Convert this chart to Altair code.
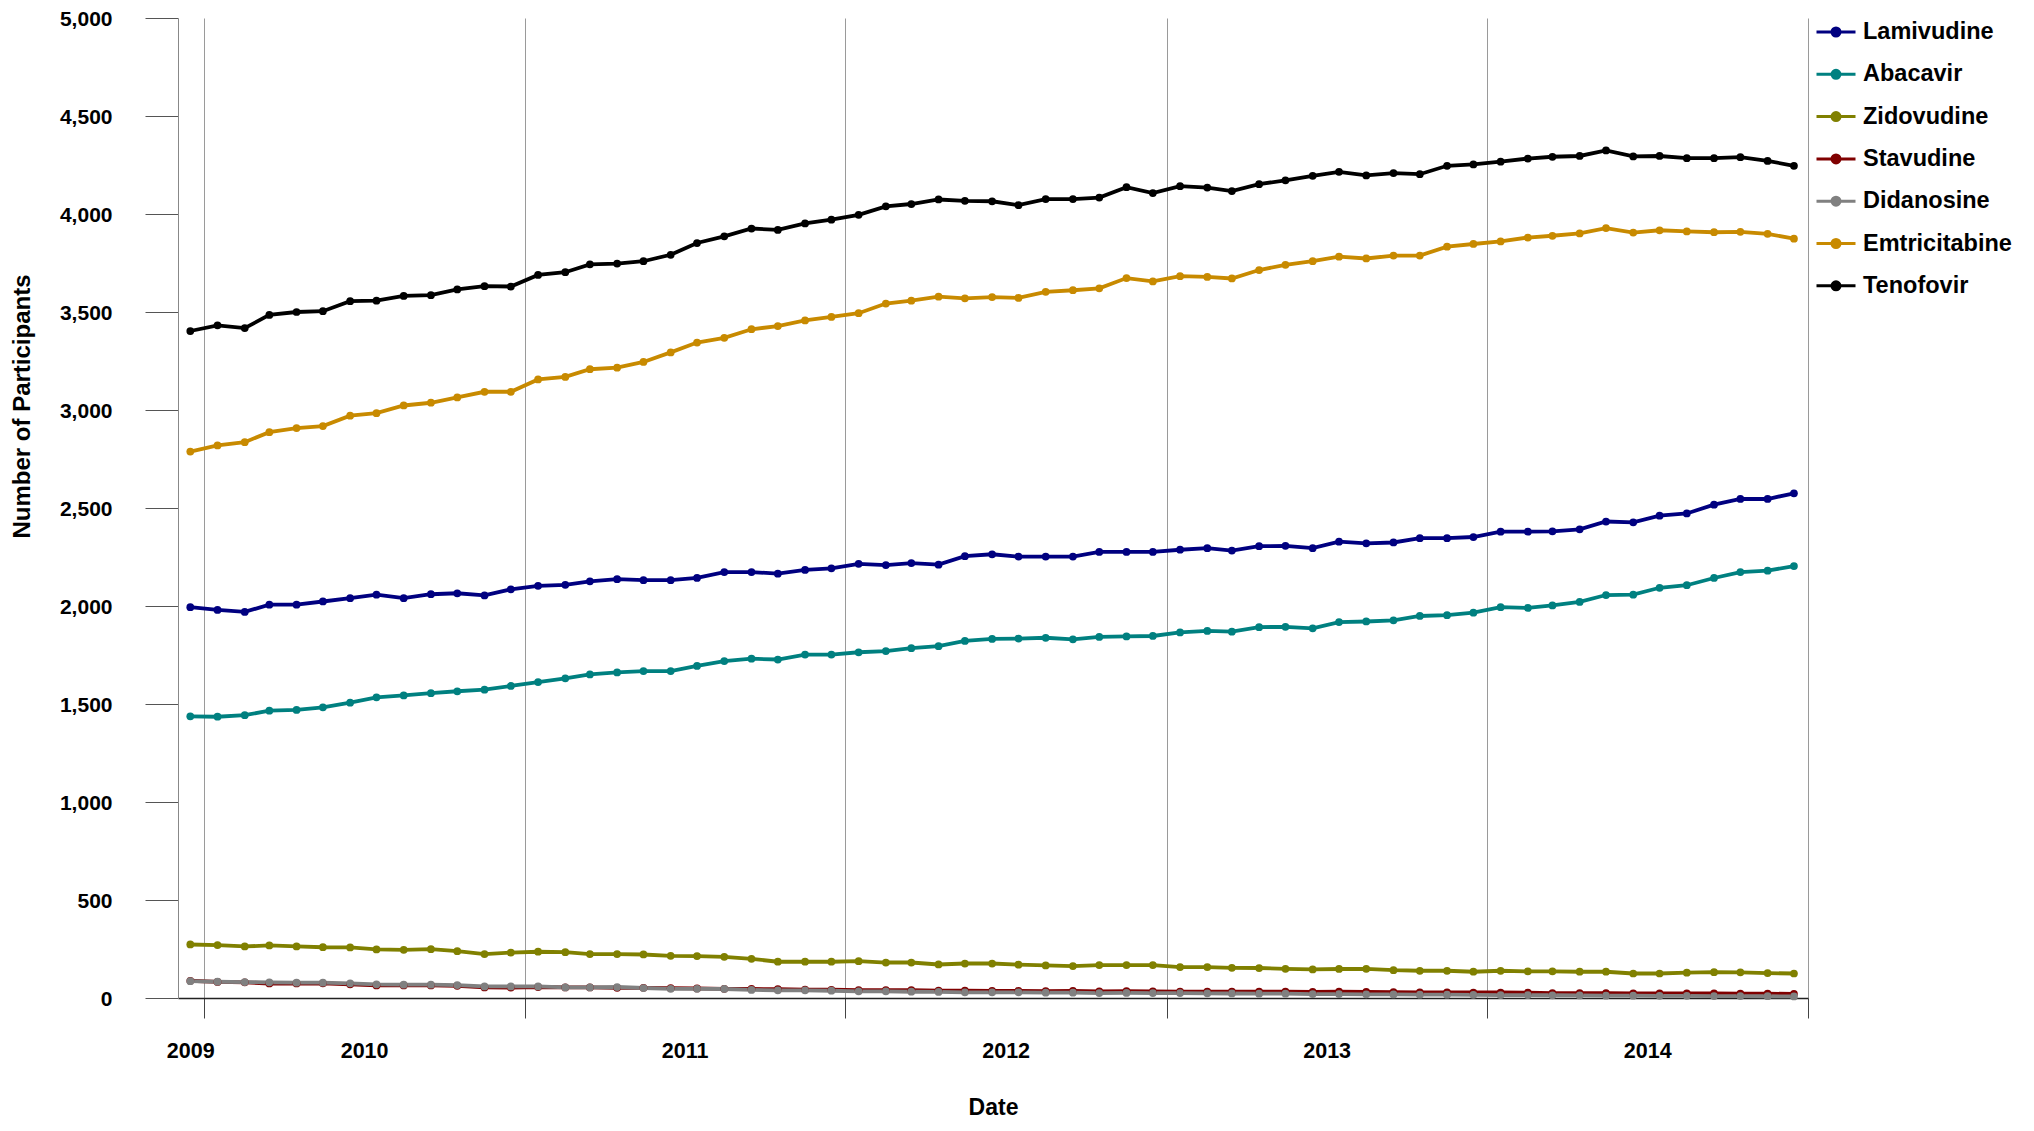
import altair as alt
import pandas as pd

# Monthly observation dates (mid-month), Dec 2009 .. Dec 2014
months = [f"{2009 + (11 + i) // 12}-{(11 + i) % 12 + 1:02d}-16T00:00:00" for i in range(61)]

series_names = ["Lamivudine", "Abacavir", "Zidovudine", "Stavudine",
                "Didanosine", "Emtricitabine", "Tenofovir"]
series_colors = ["#000080", "#008080", "#808000", "#800000",
                 "#808080", "#C88A00", "#000000"]

lamivudine = [1994, 1980, 1970, 2007, 2007, 2023, 2040, 2058, 2040, 2060, 2065, 2054, 2085, 2103, 2108, 2126, 2137, 2132, 2132, 2143,
              2173, 2173, 2165, 2184, 2192, 2215, 2209, 2219, 2211, 2254, 2264, 2252, 2252, 2252, 2276, 2276, 2276, 2287, 2295, 2283, 2305,
              2307, 2295, 2328, 2320, 2324, 2346, 2346, 2352, 2379, 2379, 2381, 2391, 2431, 2427, 2461, 2472, 2517, 2546, 2546, 2575]
abacavir = [1437, 1435, 1443, 1466, 1470, 1483, 1507, 1534, 1544, 1555, 1565, 1573, 1592, 1612, 1631, 1651, 1661, 1668, 1668, 1694,
            1719, 1731, 1727, 1752, 1752, 1764, 1770, 1785, 1795, 1822, 1832, 1834, 1838, 1830, 1842, 1845, 1847, 1865, 1873, 1869, 1892,
            1894, 1886, 1918, 1921, 1927, 1949, 1953, 1966, 1994, 1990, 2003, 2021, 2056, 2058, 2093, 2106, 2143, 2173, 2180, 2204]
zidovudine = [273, 270, 263, 268, 263, 259, 258, 248, 246, 249, 239, 224, 232, 236, 234, 224, 224, 222, 215, 214, 210, 200, 185, 185, 185, 188, 181, 181, 171, 176, 176,
              170, 166, 163, 168, 168, 168, 158, 158, 154, 153, 149, 146, 148, 149, 142, 139, 139, 134, 139, 136, 136, 134, 134, 125, 125, 129, 132, 131, 127, 125]
stavudine = [88, 82, 80, 74, 74, 75, 70, 64, 64, 64, 62, 54, 53, 56, 54, 54, 52, 52, 50, 49, 47, 46, 45, 43, 42, 40, 40, 40, 38, 37, 36,
             36, 35, 36, 34, 35, 34, 33, 33, 33, 32, 32, 31, 32, 31, 30, 29, 29, 28, 28, 27, 25, 25, 25, 24, 24, 24, 23, 22, 22, 21]
didanosine = [86, 83, 81, 80, 78, 78, 75, 70, 68, 68, 66, 59, 59, 59, 54, 54, 56, 51, 47, 47, 46, 41, 39, 39, 37, 34, 34, 32, 31, 29, 29,
              29, 27, 27, 25, 26, 25, 25, 24, 23, 22, 22, 20, 20, 19, 18, 17, 17, 16, 15, 15, 14, 13, 12, 12, 11, 11, 10, 10, 9, 8]
emtricitabine = [2788, 2819, 2836, 2887, 2908, 2918, 2971, 2984, 3023, 3037, 3064, 3093, 3093, 3156, 3169, 3208, 3216, 3245, 3294, 3344,
                 3368, 3412, 3428, 3457, 3475, 3494, 3543, 3558, 3578, 3570, 3576, 3572, 3603, 3611, 3621, 3673, 3656, 3683, 3679, 3671, 3714,
                 3741, 3759, 3782, 3773, 3788, 3788, 3833, 3847, 3860, 3880, 3889, 3901, 3928, 3905, 3917, 3911, 3907, 3909, 3899, 3874]
tenofovir = [3403, 3432, 3418, 3485, 3500, 3504, 3555, 3558, 3582, 3586, 3615, 3632, 3630, 3689, 3703, 3743, 3747, 3759, 3792, 3852,
             3886, 3926, 3919, 3952, 3971, 3996, 4039, 4051, 4074, 4067, 4065, 4045, 4076, 4076, 4084, 4137, 4107, 4142, 4135, 4117, 4152,
             4172, 4195, 4215, 4197, 4209, 4203, 4246, 4253, 4267, 4283, 4292, 4296, 4324, 4294, 4296, 4285, 4285, 4290, 4271, 4246]

year_labels = ["2009", "2010", "2011", "2012", "2013", "2014"]
year_label_dates = ["2009-12-16T12:00:00", "2010-07-02T12:00:00", "2011-07-02T12:00:00",
                    "2012-07-02T00:00:00", "2013-07-02T12:00:00", "2014-07-02T12:00:00"]

all_series = [lamivudine, abacavir, zidovudine, stavudine, didanosine, emtricitabine, tenofovir]
rows = []
for name, vals in zip(series_names, all_series):
    for d, v in zip(months, vals):
        rows.append({"date": d, "value": v, "series": name})
df = pd.DataFrame(rows)
df_years = pd.DataFrame({"date": year_label_dates, "label": year_labels})

FONT = "Liberation Sans"
# legend glyph: horizontal line plus a solid dot (two concentric stroked rings)
LEGEND_PATH = ("M-1,0L1,0"
               "M0.077,0A0.077,0.077,0,1,1,-0.077,0A0.077,0.077,0,1,1,0.077,0"
               "M0.205,0A0.205,0.205,0,1,1,-0.205,0A0.205,0.205,0,1,1,0.205,0")

x_enc = alt.X(
    "date:T",
    scale=alt.Scale(domain=[alt.DateTime(year=2009, month=12, date=2),
                            alt.DateTime(year=2015, month=1, date=1)]),
    axis=alt.Axis(
        values=[alt.DateTime(year=yy, month=1, date=1) for yy in range(2010, 2016)],
        labels=False, grid=True, gridColor="#9a9a9a", gridWidth=1,
        ticks=True, tickSize=20, tickColor="#444444", tickWidth=1,
        domainColor="#222222", domainWidth=1.5,
        title="Date", titleFontSize=23, titleFontWeight="bold", titleColor="black",
        titleY=116, titleBaseline="alphabetic", titleFont=FONT,
    ),
)
y_enc = alt.Y(
    "value:Q",
    scale=alt.Scale(domain=[0, 5000], nice=False),
    axis=alt.Axis(
        values=list(range(0, 5001, 500)), format=",.0f", grid=False,
        tickSize=33, tickColor="#555555", tickWidth=1,
        domainColor="#888888", domainWidth=1,
        labelFontSize=21, labelFontWeight="bold", labelColor="black", labelPadding=33, labelFont=FONT,
        labelOffset=1.5,
        title="Number of Participants", titleFontSize=24, titleFontWeight="bold", titleColor="black",
        titleX=-149, titleY=388, titleBaseline="alphabetic", titleFont=FONT,
    ),
)
color_enc = alt.Color(
    "series:N",
    scale=alt.Scale(domain=series_names, range=series_colors),
    legend=alt.Legend(
        title=None, orient="none", legendX=1637, legendY=-7,
        symbolType=LEGEND_PATH, symbolSize=1521, symbolStrokeWidth=3, symbolOpacity=1,
        labelFontSize=23.5, labelFontWeight="bold", labelColor="black", labelFont=FONT,
        rowPadding=9.3, padding=0, labelOffset=6,
    ),
)

base = alt.Chart(df)
lines = base.mark_line(strokeWidth=3.8, opacity=1).encode(x=x_enc, y=y_enc, color=color_enc)
points = base.mark_circle(size=60, opacity=1).encode(x="date:T", y="value:Q", color="series:N")
years = alt.Chart(df_years).mark_text(
    fontSize=21.5, fontWeight="bold", baseline="alphabetic", align="center", color="black", font=FONT
).encode(x="date:T", y=alt.value(1040), text="label:N")

chart = alt.layer(lines, points, years).properties(
    width=1630, height=980,
    padding={"left": 170, "top": 10, "right": 214, "bottom": 121},
    autosize=alt.AutoSizeParams(type="none"),
).configure(font=FONT).configure_view(stroke=None)

chart.save("out.html", embed_options={"renderer": "svg", "actions": False})
